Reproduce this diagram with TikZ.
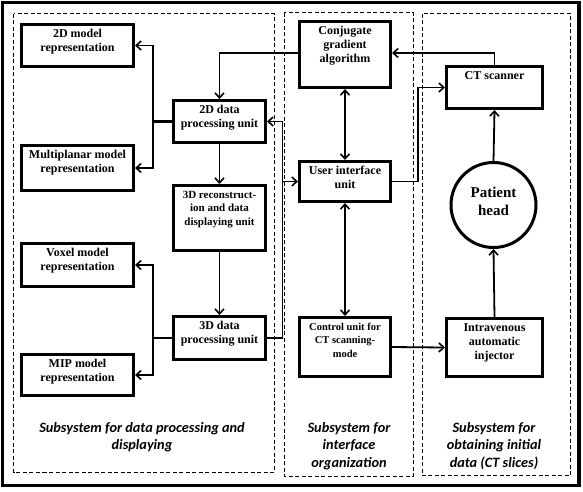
\documentclass[tikz,border=0pt]{standalone}
\usepackage{fontspec}
\setmainfont{Liberation Serif}
\newfontfamily\tnrfont{Liberation Serif}
\newfontfamily\subfont{Carlito}
\usetikzlibrary{arrows.meta,calc}
\newcommand\mybx[4]{\parbox[c][#2pt][t]{#1pt}{\centering\vspace*{#3pt}#4}}
\tikzset{
  blk/.style={draw, line width=3pt, inner sep=0pt, font=\tnrfont\bfseries\fontsize{12}{14}\selectfont},
  conn/.style={line width=1.8pt, -{Straight Barb[length=5pt,width=9pt,line width=1.6pt]}},
  dconn/.style={line width=1.8pt, {Straight Barb[length=5pt,width=9pt,line width=1.6pt]}-{Straight Barb[length=5pt,width=9pt,line width=1.6pt]}},
  plain/.style={line width=1.8pt},
  subbox/.style={draw, line width=0.9pt, dash pattern=on 4pt off 2.5pt},
  sublbl/.style={align=center, font=\subfont\bfseries\itshape\fontsize{14.3}{17.5}\selectfont, inner sep=0pt},
}
\begin{document}
\begin{tikzpicture}[x=1pt,y=-1pt]
\useasboundingbox (0,0) rectangle (583,491);
% outer frame
\draw[line width=3.5pt] (2.5,2.5) rectangle (579,485.5);
% subsystem dashed boxes
\draw[subbox] (13.5,13.5) rectangle (274,472);
\draw[subbox] (284,12.5) rectangle (413,476);
\draw[subbox] (422,13.5) rectangle (570.5,475.5);

% left column
\node[blk] (m2d) at (77.5,45.5) {\mybx{112}{42}{3.5}{\strut 2D model\\representation}};
\node[blk] (mpl) at (77.5,168) {\mybx{112}{45}{3.5}{\strut Multiplanar model\\representation}};
\node[blk] (vox) at (77.5,265) {\mybx{112}{43}{3.5}{\strut Voxel model\\representation}};
\node[blk] (mip) at (77.5,375) {\mybx{112}{41}{3.5}{\strut MIP model\\representation}};
% processing column
\node[blk, font=\tnrfont\bfseries\fontsize{11}{13.2}\selectfont] (rec) at (219.5,218) {\mybx{92}{65}{4}{\strut 3D reconstruct-\\ion and data\\displaying unit}};
\node[blk] (p2d) at (219.5,121.5) {\mybx{92}{42}{3.5}{\strut 2D data\\processing unit}};
\node[blk] (p3d) at (219.5,338) {\mybx{92}{43}{3.5}{\strut 3D data\\processing unit}};
% interface column
\node[blk] (cg) at (345,54.5) {\mybx{91}{66}{3.5}{\strut Conjugate\\gradient\\algorithm}};
\node[blk] (ui) at (345,181.5) {\mybx{91}{40}{3.5}{\strut User interface\\unit}};
\node[blk, font=\tnrfont\bfseries\fontsize{10.5}{13.5}\selectfont] (cu) at (345,347) {\mybx{91}{59}{3.5}{\strut Control unit for\\CT scanning-\\mode}};
% data column
\node[blk] (ct) at (494.5,87.5) {\mybx{96}{42}{3.5}{\strut CT scanner}};
\node[draw, circle, line width=3pt, minimum size=85pt, inner sep=0pt] (head) at (493.5,205) {};
\node[font=\tnrfont\bfseries\fontsize{15}{18}\selectfont, align=center, inner sep=0pt] (headtxt) at (493.5,201) {Patient\\head};
\node[blk] (inj) at (494.5,347.5) {\mybx{96}{58}{3.5}{\strut Intravenous\\automatic\\injector}};

% subsystem labels
\node[sublbl] (l1) at (142,437) {Subsystem for data processing and\\displaying};
\node[sublbl] (l2) at (349,446) {Subsystem for\\interface\\organization};
\node[sublbl] (l3) at (494,446) {Subsystem for\\obtaining initial\\data (CT slices)};

% connectors, left part
\coordinate (j1) at (153,121.5);
\coordinate (j2) at (153,338);
\coordinate (bus) at (282.5,0);
\draw[plain, line width=2.5pt] (p2d.west) -- (j1);
\draw[conn] (j1) |- (m2d.east);
\draw[conn] (j1) |- (mpl.east);
\draw[plain] (p3d.west) -- (j2);
\draw[conn] (j2) |- (vox.east);
\draw[conn] (j2) |- (mip.east);
\draw[conn] (p2d.south) -- (rec.north);
\draw[conn] (rec.south) -- (p3d.north);
\draw[conn] (cg.west |- 0,53) -| (p2d.north);
\draw[conn] (p3d.east) -| (bus |- p2d.east) -- (p2d.east);
\draw[conn] (bus |- ui.west) -- (ui.west);
% interface part
\draw[dconn] (cg.south) -- (ui.north);
\draw[dconn] (ui.south) -- (cu.north);
\draw[conn] (ui.east) -- ++(26,0) |- (ct.west);
\draw[conn] (ct.north) |- (cg.east |- 0,53);
\draw[conn] (cu.east) -- (inj.west);
% data part
\draw[conn] (head.north) -- (ct.south);
\draw[conn] (inj.north) -- (head.south);
\end{tikzpicture}
\end{document}
